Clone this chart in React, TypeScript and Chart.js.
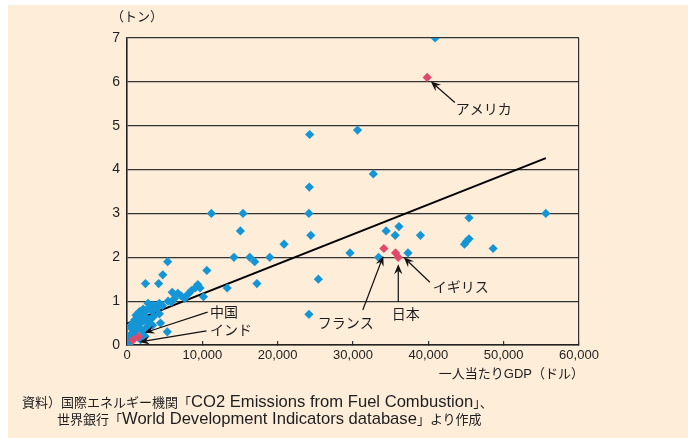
import React, { useEffect, useRef } from 'react';
import { Chart, registerables } from 'chart.js';

Chart.register(...registerables);

// ---- data (per-capita GDP in US$, per-capita CO2 emissions in tons) ----
const blueX = [
  40900, 30600, 24250, 32700, 24200, 11200, 15400, 24150, 55600, 45400,
  15050, 24400, 34400, 36100, 35600, 38950, 45400, 44800, 45050, 48600,
  20850, 29600, 33400, 37300, 14200, 16300, 16950, 18950, 17250, 25400,
  24150, 13300, 10600, 10150,
  5400, 4750, 2450, 4200, 9400, 9700, 9100, 8550, 8100, 7650,
  6000, 6750, 6300, 7200, 5450, 5900, 4300, 4700, 3450, 3900,
  3000, 2800, 3300, 2450, 2150, 1650, 1900, 1200, 1400, 1000,
  2600, 2200, 1800, 700, 350, 4300, 4450, 5350, 3600, 3100,
  1500, 1200, 900, 600, 400, 200, 100, 300, 500, 1100,
  2000, 2600, 3000, 800, 1300, 2400, 1800, 3400,
];
const blueY = [
  7.0, 4.9, 4.8, 3.9, 3.6, 3.0, 3.0, 3.0, 3.0, 2.9,
  2.6, 2.5, 2.6, 2.7, 2.5, 2.5, 2.42, 2.3, 2.36, 2.2,
  2.3, 2.1, 2.0, 2.1, 2.0, 2.0, 1.9, 2.0, 1.4, 1.5,
  0.7, 1.3, 1.7, 1.1,
  1.9, 1.6, 1.4, 1.4, 1.38, 1.3, 1.31, 1.24, 1.16, 1.06,
  1.2, 1.18, 1.06, 1.12, 1.0, 0.98, 0.95, 0.9, 0.91, 0.84,
  0.87, 0.95, 0.78, 0.76, 0.82, 0.76, 0.68, 0.68, 0.6, 0.57,
  0.62, 0.55, 0.5, 0.49, 0.42, 0.71, 0.5, 0.3, 0.66, 0.58,
  0.42, 0.35, 0.3, 0.26, 0.2, 0.12, 0.04, 0.0, 0.15, 0.22,
  0.32, 0.4, 0.5, 0.4, 0.48, 0.2, 0.12, 0.45,
];

const redNames = ['アメリカ', '中国', 'インド', 'フランス', '日本', 'イギリス'];
const redX = [39850, 1530, 770, 34100, 35650, 36000];
const redY = [6.1, 0.19, 0.11, 2.2, 2.1, 2.0];

const trendX = [0, 55600];
const trendY = [0.49, 4.26];

const xTicks = [0, 10000, 20000, 30000, 40000, 50000, 60000];
const yTicks = [0, 1, 2, 3, 4, 5, 6, 7];

// annotation label placement (data coordinates)
const annoTextX = [43650, 11030, 11030, 25320, 37010, 40600];
const annoTextY = [5.39, 0.77, 0.34, 0.52, 0.71, 1.32];
const annoAlign: CanvasTextAlign[] = ['left', 'left', 'left', 'left', 'center', 'left'];
const annoTailX = [43520, 10700, 10560, 31300, 36010, 40200];
const annoTailY = [5.53, 0.75, 0.32, 0.8, 0.98, 1.43];
const annoHeadX = [40330, 2330, 1660, 34020, 36010, 36740];
const annoHeadY = [6.01, 0.28, 0.07, 2.03, 1.84, 2.0];

const BEIGE = '#FDEDD9';
const BLUE = '#1496D6';
const RED = '#E0486C';
const DARK = '#333333';
const TEXT = '#1e1e1e';
const FONT = "'Liberation Sans', 'Noto Sans CJK JP', sans-serif";
const JFONT = "'Noto Sans CJK JP', 'Liberation Sans', sans-serif";

const annoPlugin = {
  id: 'annoArrows',
  afterDatasetsDraw(chart: any) {
    const { ctx, scales } = chart;
    const xs = scales.x;
    const ys = scales.y;
    ctx.save();
    ctx.strokeStyle = '#111';
    ctx.fillStyle = '#111';
    ctx.lineWidth = 1.2;
    for (let i = 0; i < redNames.length; i++) {
      const tx = xs.getPixelForValue(annoTailX[i]);
      const ty = ys.getPixelForValue(annoTailY[i]);
      const hx = xs.getPixelForValue(annoHeadX[i]);
      const hy = ys.getPixelForValue(annoHeadY[i]);
      const ang = Math.atan2(hy - ty, hx - tx);
      const len = 10;
      const half = 4.2;
      const bx = hx - Math.cos(ang) * len;
      const by = hy - Math.sin(ang) * len;
      const nx = hx - Math.cos(ang) * len * 0.65;
      const ny = hy - Math.sin(ang) * len * 0.65;
      ctx.beginPath();
      ctx.moveTo(tx, ty);
      ctx.lineTo(nx, ny);
      ctx.stroke();
      ctx.beginPath();
      ctx.moveTo(hx, hy);
      ctx.lineTo(bx - Math.sin(ang) * half, by + Math.cos(ang) * half);
      ctx.lineTo(nx, ny);
      ctx.lineTo(bx + Math.sin(ang) * half, by - Math.cos(ang) * half);
      ctx.closePath();
      ctx.fill();
    }
    ctx.fillStyle = TEXT;
    ctx.font = `14px ${JFONT}`;
    ctx.textBaseline = 'middle';
    for (let i = 0; i < redNames.length; i++) {
      ctx.textAlign = annoAlign[i];
      ctx.fillText(
        redNames[i],
        xs.getPixelForValue(annoTextX[i]),
        ys.getPixelForValue(annoTextY[i])
      );
    }
    ctx.restore();
  },
};

export default function App() {
  const ref = useRef<HTMLCanvasElement>(null);

  useEffect(() => {
    document.body.style.margin = '0';
    const canvas = ref.current!;
    const chart = new Chart(canvas, {
      type: 'scatter',
      data: {
        datasets: [
          {
            label: 'trend',
            type: 'line',
            data: trendX.map((v, i) => ({ x: v, y: trendY[i] })),
            borderColor: '#000',
            borderWidth: 2,
            pointRadius: 0,
            fill: false,
            order: 3,
          } as any,
          {
            label: 'countries',
            data: blueX.map((v, i) => ({ x: v, y: blueY[i] })),
            pointStyle: 'rectRot',
            pointRadius: 4.6,
            backgroundColor: BLUE,
            borderColor: BLUE,
            borderWidth: 0,
            order: 2,
          },
          {
            label: 'highlight',
            data: redX.map((v, i) => ({ x: v, y: redY[i] })),
            pointStyle: 'rectRot',
            pointRadius: 4.6,
            backgroundColor: RED,
            borderColor: RED,
            borderWidth: 0,
            order: 1,
          },
        ],
      },
      options: {
        responsive: false,
        animation: false,
        devicePixelRatio: 1,
        layout: { padding: { top: 38, right: 109, left: 0, bottom: 0 } },
        plugins: {
          legend: { display: false },
          tooltip: { enabled: false },
        },
        scales: {
          x: {
            type: 'linear',
            min: 0,
            max: 60000,
            afterBuildTicks: (s: any) => {
              s.ticks = xTicks.map((v) => ({ value: v }));
            },
            afterFit: (s: any) => {
              s.height = 93;
            },
            ticks: {
              color: TEXT,
              font: { family: FONT, size: 13 },
              padding: 7,
              maxRotation: 0,
              autoSkip: false,
              callback: (v: any) => Number(v).toLocaleString('en-US'),
            },
            grid: {
              color: (c: any) =>
                c.tick && c.tick.value === 60000 ? DARK : 'rgba(0,0,0,0)',
              tickColor: DARK,
              tickLength: -4,
              lineWidth: 1.2,
            },
            border: { color: '#222', width: 1.6 },
          },
          y: {
            min: 0,
            max: 7,
            afterBuildTicks: (s: any) => {
              s.ticks = yTicks.map((v) => ({ value: v }));
            },
            afterFit: (s: any) => {
              s.width = 127;
            },
            ticks: {
              color: TEXT,
              font: { family: FONT, size: 14 },
              padding: 7,
            },
            grid: { color: DARK, drawTicks: false, lineWidth: 1.2 },
            border: { color: '#222', width: 1.6 },
          },
        },
      },
      plugins: [annoPlugin],
    });
    return () => chart.destroy();
  }, []);

  const txt: React.CSSProperties = {
    position: 'absolute',
    fontFamily: FONT,
    color: TEXT,
    whiteSpace: 'nowrap',
  };
  const lat: React.CSSProperties = { fontSize: 16.6, fontFamily: "'Liberation Sans', sans-serif" };

  return (
    <div style={{ position: 'relative', width: 688, height: 438, background: '#fff', overflow: 'hidden' }}>
      <div style={{ position: 'absolute', left: 8, top: 5, right: 0, bottom: 0, background: BEIGE }} />
      <canvas ref={ref} width={688} height={438} style={{ position: 'absolute', left: 0, top: 0, width: 688, height: 438 }} />
      <div style={{ ...txt, left: 111, top: 9, fontSize: 13, lineHeight: '16px' }}>（トン）</div>
      <div style={{ ...txt, right: 104, top: 366, fontSize: 13, lineHeight: '16px' }}>一人当たりGDP（ドル）</div>
      <div style={{ ...txt, left: 22, top: 393, fontSize: 13, lineHeight: '18px' }}>
        資料）国際エネルギー機関「<span style={lat}>CO2 Emissions from Fuel Combustion</span>」、
      </div>
      <div style={{ ...txt, left: 57, top: 410, fontSize: 13, lineHeight: '18px' }}>
        世界銀行「<span style={lat}>World Development Indicators database</span>」より作成
      </div>
    </div>
  );
}
